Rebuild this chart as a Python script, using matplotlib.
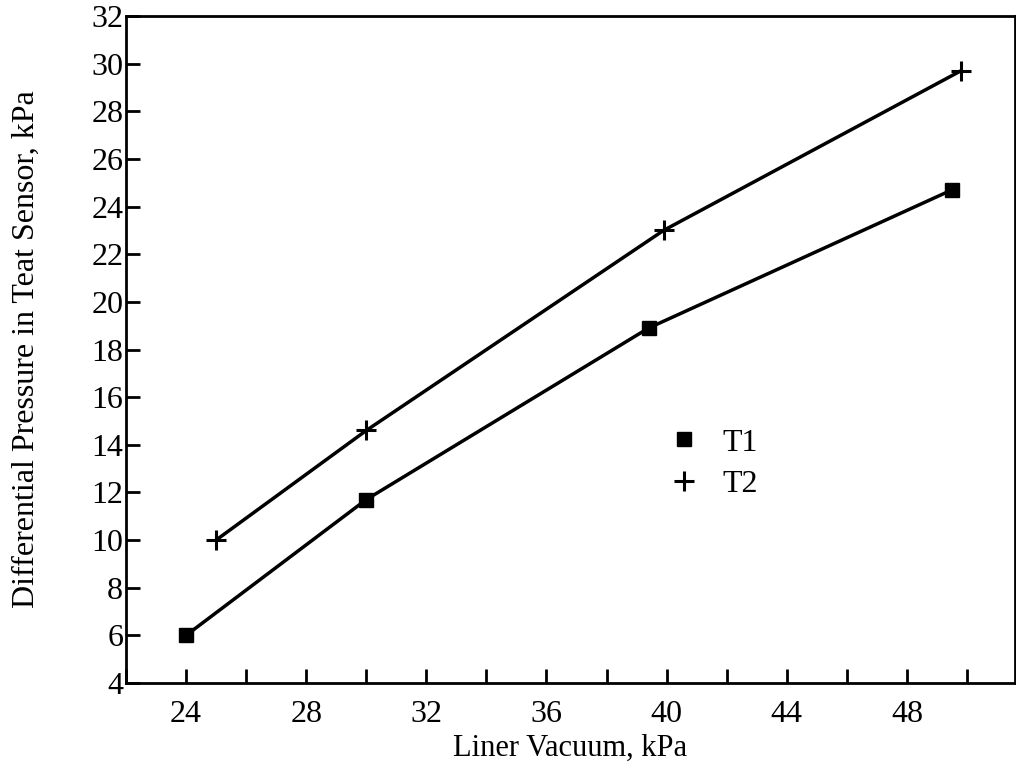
import matplotlib
matplotlib.use("Agg")
import matplotlib.pyplot as plt
from matplotlib.ticker import MultipleLocator, FuncFormatter

t1_x = [24.0, 30.0, 39.4, 49.5]
t1_y = [6.0, 11.7, 18.9, 24.7]
t2_x = [25.0, 30.0, 39.9, 49.8]
t2_y = [10.0, 14.6, 23.0, 29.7]

plt.rcParams['font.family'] = ['Liberation Serif', 'DejaVu Serif']

fig = plt.figure(figsize=(10.16, 7.74), dpi=100)
ax = fig.add_axes([126/1016, 1-683/774, (1015-126)/1016, (683-16)/774])

ax.plot(t1_x, t1_y, color='black', lw=2.5, marker='s', ms=10, label='T1')
ax.plot(t2_x, t2_y, color='black', lw=2.5, marker='+', ms=14, mew=2.2, label='T2')

ax.set_xlim(22, 51.6)
ax.set_ylim(4, 32)
ax.xaxis.set_major_locator(MultipleLocator(2))
ax.xaxis.set_major_formatter(FuncFormatter(lambda v, p: f"{int(round(v))}" if int(round(v)) % 4 == 0 else ""))
ax.yaxis.set_major_locator(MultipleLocator(2))
ax.tick_params(axis='both', direction='in', length=10, width=2, labelsize=23)
ax.tick_params(axis='y', pad=2)
ax.tick_params(axis='x', pad=12)
for s in ax.spines.values():
    s.set_linewidth(2)

ax.set_xlabel('Liner Vacuum, kPa', fontsize=22, labelpad=4)
ax.set_ylabel('Differential Pressure in Teat Sensor, kPa', fontsize=23, labelpad=36)

leg = ax.legend(loc='upper left', bbox_to_anchor=(0.595, 0.425), frameon=False,
                fontsize=23, handlelength=0, handletextpad=1.2, labelspacing=0.38)
for h in leg.legend_handles:
    h.set_linestyle('none')

fig.savefig('out.png', dpi=100)
